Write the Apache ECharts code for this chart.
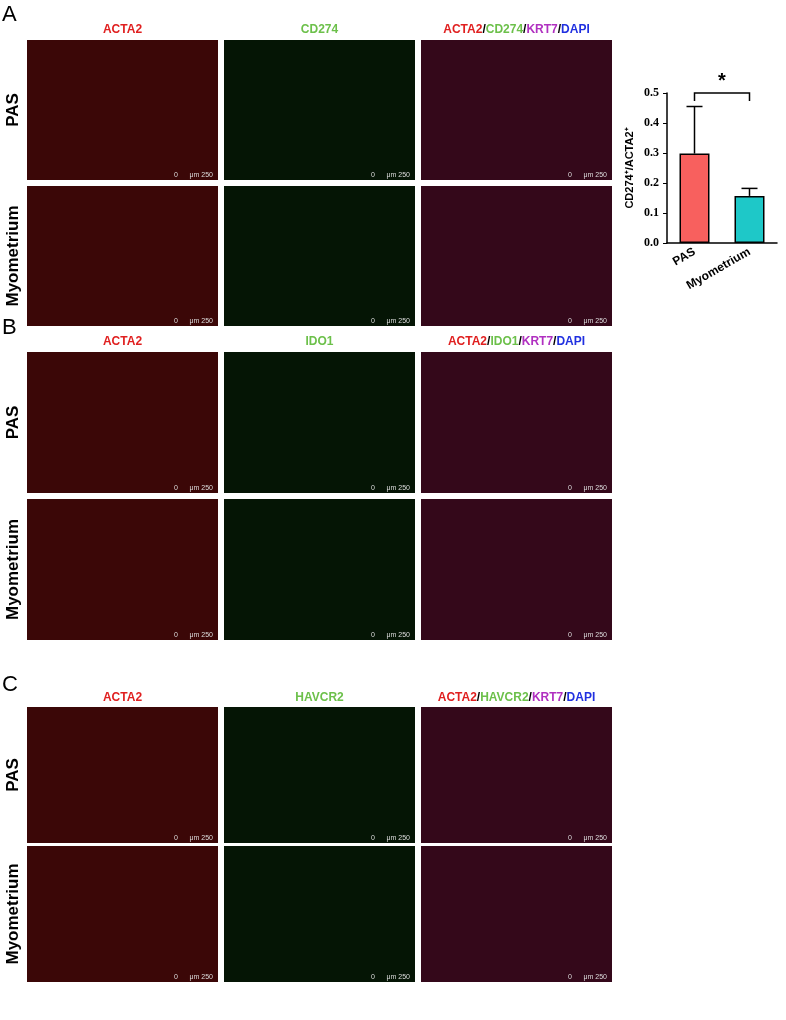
<!DOCTYPE html>
<html><head><meta charset="utf-8">
<script src="https://cdn.jsdelivr.net/npm/echarts@6/dist/echarts.min.js"></script>
<style>html,body{margin:0;background:#fff}#fig{width:786px;height:1020px}</style>
</head><body><div id="fig"></div>
<script>
var categories = ['PAS', 'Myometrium'];
var means = [0.298, 0.157];
var errTop = [0.455, 0.182];
var barColors = ['#f8605e', '#1ec8c8'];
var yTicks = [0, 0.1, 0.2, 0.3, 0.4, 0.5];

var sections = [
    { letter: 'A', y: 14, head: 30, rows: [40, 186], h: 140, marker: ['CD274', '#6cc04a'] },
    { letter: 'B', y: 327, head: 342, rows: [352, 499], h: 141, marker: ['IDO1', '#6cc04a'] },
    { letter: 'C', y: 684, head: 698, rows: [707, 846], h: 136, marker: ['HAVCR2', '#6cc04a'] }
];
var cols = [27, 224, 421];
var colW = 191;
var panelFill = ['#3b0707', '#051505', '#34081a'];

var myChart = echarts.init(document.getElementById('fig'));
var graphics = [];
sections.forEach(function (s) {
    graphics.push({ type: 'text', left: 2, top: s.y - 10, style: { text: s.letter, font: '22px Arial', fill: '#000' } });
    graphics.push({ type: 'text', x: cols[0] + colW / 2, y: s.head, style: { text: 'ACTA2', font: 'bold 12px Arial', fill: '#e02020', align: 'center', verticalAlign: 'middle' } });
    graphics.push({ type: 'text', x: cols[1] + colW / 2, y: s.head, style: { text: s.marker[0], font: 'bold 12px Arial', fill: s.marker[1], align: 'center', verticalAlign: 'middle' } });
    graphics.push({ type: 'text', x: cols[2] + colW / 2, y: s.head, style: {
        text: '{r|ACTA2}{k|/}{g|' + s.marker[0] + '}{k|/}{p|KRT7}{k|/}{b|DAPI}', align: 'center', verticalAlign: 'middle',
        rich: { r: { fill: '#e02020', font: 'bold 12px Arial' }, g: { fill: '#6cc04a', font: 'bold 12px Arial' },
            p: { fill: '#b030c0', font: 'bold 12px Arial' }, b: { fill: '#2030e0', font: 'bold 12px Arial' }, k: { fill: '#000', font: 'bold 12px Arial' } } } });
    s.rows.forEach(function (ry, ri) {
        graphics.push({ type: 'text', x: 13, y: ry + s.h / 2, rotation: Math.PI / 2, style: {
            text: ri === 0 ? 'PAS' : 'Myometrium', font: 'bold 17px Arial', fill: '#000', align: 'center', verticalAlign: 'middle' } });
        cols.forEach(function (cx, ci) {
            graphics.push({ type: 'rect', shape: { x: cx, y: ry, width: colW, height: s.h }, style: { fill: panelFill[ci] } });
            graphics.push({ type: 'text', x: cx + colW - 5, y: ry + s.h - 8, style: { text: '0      μm 250', font: '7px Arial', fill: '#ddd', align: 'right' } });
        });
    });
});

option = {
    backgroundColor: '#fff',
    graphic: graphics,
    grid: { left: 667, top: 93, width: 110, height: 150 },
    xAxis: {
        type: 'category', data: categories,
        axisLine: { lineStyle: { color: '#000', width: 1.5 } },
        axisTick: { alignWithLabel: true, length: 4, lineStyle: { color: '#000' } },
        axisLabel: { rotate: 30, color: '#000', fontWeight: 'bold', fontSize: 12, fontFamily: 'Arial', margin: 8 }
    },
    yAxis: {
        type: 'value', min: 0, max: 0.5, interval: 0.1,
        name: 'CD274⁺/ACTA2⁺', nameLocation: 'middle', nameGap: 32, nameRotate: 90,
        nameTextStyle: { color: '#000', fontWeight: 'bold', fontSize: 11, fontFamily: 'Arial' },
        axisLine: { show: true, lineStyle: { color: '#000', width: 1.5 } },
        axisTick: { show: true, length: 4, lineStyle: { color: '#000' } },
        splitLine: { show: false },
        axisLabel: { color: '#000', fontWeight: 'bold', fontSize: 12, fontFamily: 'Times New Roman',
            formatter: function (v) { return v.toFixed(1); } }
    },
    series: [
        {
            type: 'bar', barWidth: 30,
            data: means.map(function (v, i) { return { value: v, itemStyle: { color: barColors[i] } }; }),
            itemStyle: { borderColor: '#000', borderWidth: 1.5 }
        },
        {
            type: 'custom', z: 1,
            data: means.map(function (v, i) { return [i, v, errTop[i]]; }),
            renderItem: function (params, api) {
                var p0 = api.coord([api.value(0), api.value(1)]);
                var p1 = api.coord([api.value(0), api.value(2)]);
                return { type: 'group', children: [
                    { type: 'line', shape: { x1: p0[0], y1: p0[1], x2: p1[0], y2: p1[1] }, style: { stroke: '#000', lineWidth: 1.5 } },
                    { type: 'line', shape: { x1: p1[0] - 8, y1: p1[1], x2: p1[0] + 8, y2: p1[1] }, style: { stroke: '#000', lineWidth: 1.5 } }
                ] };
            }
        },
        {
            type: 'custom',
            data: [[0, 1, 0.5]],
            renderItem: function (params, api) {
                var a = api.coord([api.value(0), api.value(2)]);
                var b = api.coord([api.value(1), api.value(2)]);
                return { type: 'group', children: [
                    { type: 'polyline', shape: { points: [[a[0], a[1] + 8], [a[0], a[1]], [b[0], b[1]], [b[0], b[1] + 8]] }, style: { stroke: '#000', fill: null, lineWidth: 1.5 } },
                    { type: 'text', x: (a[0] + b[0]) / 2, y: a[1] - 2, style: { text: '*', font: 'bold 20px Arial', fill: '#000', align: 'center', verticalAlign: 'bottom' } }
                ] };
            }
        }
    ]
};
if (option && typeof option === "object") {
    myChart.setOption(option, true);
}
</script></body></html>
